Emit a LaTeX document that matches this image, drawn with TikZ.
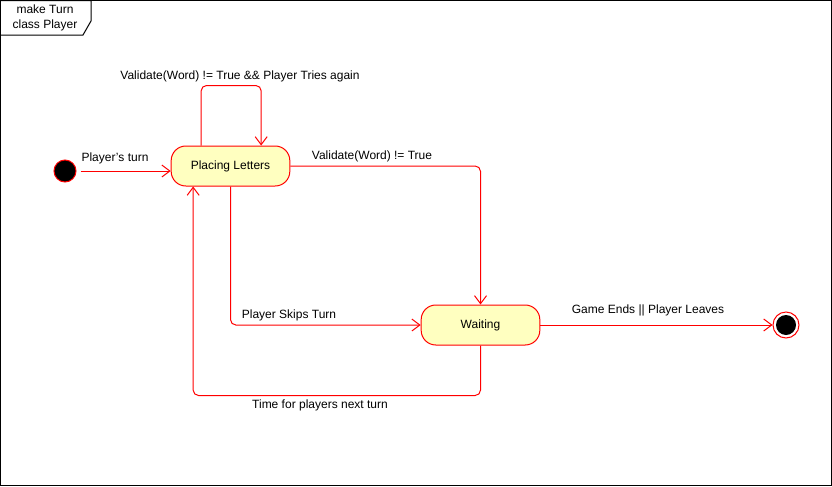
\documentclass[tikz,border=0pt]{standalone}
\usepackage{fontspec}
\setmainfont{Liberation Sans}
\usepackage{xcolor}
\usetikzlibrary{arrows.meta}
\definecolor{statefill}{HTML}{FFFFC0}
\tikzset{
	state/.style={
			draw=red, fill=statefill, rounded corners=11pt,
			minimum width=89pt, minimum height=30pt, font=\fontsize{9}{11}\selectfont
		},
	trans/.style={draw=red, rounded corners=4pt, -{Straight Barb[length=6pt,width=9pt]}},
	lbl/.style={font=\fontsize{9}{11}\selectfont, inner sep=0pt}
}

\begin{document}
\begin{tikzpicture}[x=0.75pt, y=-0.75pt, line width=0.75pt]
		\useasboundingbox (0, 0) rectangle (832, 486);
		\draw[black]	(0.5, 0.5) rectangle (831.5, 485.5);
		\draw[black]	(0.5, 0.5) -- (91, 0.5) -- (91, 21) -- (83, 35) -- (0.5, 35);
		\node[lbl, align=center] (frame) at (45, 18) {make Turn\\class Player};

		\node[circle, fill=black, draw=red, minimum size=16.5pt, inner sep=0pt] (init) at (65, 171) {};
		\node[state] (place) at (230.5, 166) {Placing Letters};
		\node[state] (wait) at (480.5, 325) {Waiting};
		\node[circle, draw=red, minimum size=19.5pt, inner sep=0pt] (final) at (786, 325) {};
		\node[circle, fill=black, minimum size=15pt, inner sep=0pt] (finaldot) at (final) {};

		\draw[trans]	([xshift=3pt]init.east) -- (init.east -| place.west);
		\draw[trans]	([xshift=-22pt]place.north) -- ++(0, -60) -| ([xshift=23pt]place.north);
		\draw[trans]	(place.east) -| (wait.north);
		\draw[trans]	(place.south) |- (wait.west);
		\draw[trans]	(wait.south) -- ++(0, 50) -| ([xshift=-28pt]place.south);
		\draw[trans]	(wait.east) -- (final);

		\node[lbl] (lturn) at (115, 158) {Player's turn};
		\node[lbl] (lagain) at (240, 76) {Validate(Word) != True \&\& Player Tries again};
		\node[lbl] (lvalid) at (372, 156) {Validate(Word) != True};
		\node[lbl] (lskip) at (289, 315) {Player Skips Turn};
		\node[lbl] (lnext) at (320, 405) {Time for players next turn};
		\node[lbl] (lend) at (648, 310) {Game Ends || Player Leaves};
	\end{tikzpicture}
\end{document}
